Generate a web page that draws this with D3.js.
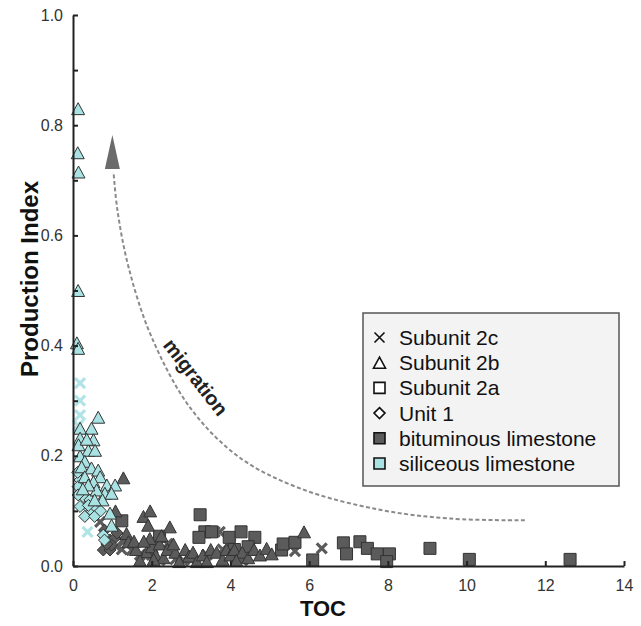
<!DOCTYPE html>
<html><head><meta charset="utf-8">
<script src="https://cdn.jsdelivr.net/npm/d3@7"></script>
<style>body{margin:0;background:#fff}svg{display:block}</style>
</head><body>
<svg id="c" width="641" height="626"></svg>
<script>
// ---------- data (TOC, Production Index) ----------
const xTicks = [0,2,4,6,8,10,12,14];
const yTicks = [0,0.1,0.2,0.3,0.4,0.5,0.6,0.7,0.8,0.9,1.0];
const yLabels = [0,0.2,0.4,0.6,0.8,1.0];
const units = ["Subunit 2c","Subunit 2b","Subunit 2a","Unit 1"];
const lithologies = ["bituminous limestone","siliceous limestone"];

// bituminous limestone
const bit2c = [[0.69,0.08],[1.28,0.044],[1.49,0.029],[1.24,0.03],[1.7,0.02],[2.0,0.02],[2.2,0.01],[2.6,0.012],[2.8,0.01],[3.0,0.01],[3.4,0.02],[3.6,0.062],[3.73,0.062],[3.8,0.03],[4.0,0.04],[4.3,0.01],[4.5,0.035],[5.64,0.027],[6.32,0.032],[2.4,0.04],[1.1,0.035]];
const bit2b = [[1.28,0.16],[1.08,0.10],[1.79,0.09],[1.96,0.10],[1.91,0.074],[1.36,0.059],[1.41,0.044],[2.46,0.071],[1.87,0.026],[1.7,0.01],[1.6,0.03],[2.0,0.035],[2.1,0.02],[2.2,0.04],[2.3,0.015],[2.4,0.03],[2.6,0.025],[2.7,0.008],[2.85,0.03],[2.95,0.018],[3.05,0.025],[3.15,0.008],[3.3,0.02],[3.5,0.03],[3.65,0.025],[3.8,0.012],[3.9,0.03],[4.0,0.02],[4.1,0.03],[4.3,0.025],[4.45,0.015],[4.6,0.03],[4.75,0.02],[4.92,0.032],[5.05,0.022],[5.87,0.062],[1.95,0.05],[2.25,0.055],[1.55,0.045],[2.05,0.012],[3.4,0.008],[4.15,0.01],[1.8,0.045],[2.55,0.04]];
const bit2a = [[1.24,0.082],[2.2,0.054],[3.23,0.093],[3.35,0.062],[3.2,0.052],[3.52,0.062],[3.97,0.052],[4.27,0.062],[4.62,0.052],[5.3,0.029],[5.34,0.04],[5.64,0.043],[6.09,0.011],[6.87,0.042],[6.95,0.022],[7.29,0.044],[7.48,0.032],[7.73,0.022],[8.04,0.022],[7.97,0.008],[9.07,0.032],[10.07,0.012],[12.63,0.012],[4.1,0.03],[4.45,0.035]];
const bitU1 = [[0.77,0.029],[0.94,0.029],[0.94,0.047],[1.05,0.05],[0.98,0.038],[0.8,0.065],[1.12,0.06],[0.86,0.04]];

// siliceous limestone
const sil2c = [[0.18,0.332],[0.18,0.30],[0.18,0.274],[0.13,0.255],[0.37,0.062]];
const sil2b = [[0.13,0.83],[0.12,0.75],[0.14,0.715],[0.13,0.50],[0.10,0.405],[0.13,0.395],[0.64,0.27],[0.18,0.25],[0.47,0.25],[0.18,0.232],[0.52,0.229],[0.39,0.21],[0.18,0.20],[0.3,0.19],[0.56,0.21],[0.22,0.18],[0.47,0.178],[0.64,0.174],[0.3,0.162],[0.69,0.162],[0.52,0.153],[0.86,0.147],[1.07,0.147],[0.81,0.132],[0.98,0.132],[0.6,0.138],[0.39,0.147],[0.94,0.096],[0.98,0.074],[0.14,0.22],[0.35,0.23],[0.75,0.12],[0.55,0.12],[0.25,0.14]];
const silU1 = [[0.18,0.156],[0.26,0.126],[0.35,0.108],[0.47,0.10],[0.18,0.108],[0.22,0.138],[0.77,0.056],[0.43,0.12],[0.6,0.105],[0.13,0.144],[0.13,0.129],[0.39,0.11],[0.8,0.047],[0.3,0.09],[0.55,0.09],[0.12,0.17],[0.7,0.1]];

// migration arrow path (data coords)
const arrowPath = [[11.48,0.083],[9.6,0.086],[7.8,0.102],[5.8,0.14],[4.25,0.196],[3.0,0.285],[2.0,0.415],[1.42,0.54],[1.13,0.645],[1.03,0.715]];
const arrowTip = [1.0,0.782];

// ---------- layout ----------
const svg = d3.select("#c");
const x = d3.scaleLinear().domain([0,14]).range([73,624]);
const y = d3.scaleLinear().domain([0,1]).range([566,15]);

const darkFill = "#5b5b5b", cyanFill = "#a9e2e2", outline = "#333";
const crossDark = "#5b5b5b", crossCyan = "#b0e4e6";

function tri(s){const h=s*0.92;return `M0,${-h/2}L${s/2},${h/2}L${-s/2},${h/2}Z`;}
function sq(s){return `M${-s/2},${-s/2}h${s}v${s}h${-s}Z`;}
function dia(s){const r=s/2;return `M0,${-r}L${r},0L0,${r}L${-r},0Z`;}
function cross(s){const r=s/2;return `M${-r},${-r}L${r},${r}M${r},${-r}L${-r},${r}`;}

const gPts = svg.append("g");
function drawShape(data, shape, size, fill){
  gPts.selectAll(null).data(data).enter().append("path")
    .attr("d", shape(size))
    .attr("transform", d=>`translate(${x(d[0])},${y(d[1])})`)
    .attr("fill", fill).attr("stroke", outline).attr("stroke-width", 1);
}
function drawCross(data, color){
  gPts.selectAll(null).data(data).enter().append("path")
    .attr("d", cross(10))
    .attr("transform", d=>`translate(${x(d[0])},${y(d[1])})`)
    .attr("fill","none").attr("stroke", color).attr("stroke-width", 3.2);
}
// bituminous first
drawCross(bit2c, crossDark);
drawShape(bit2a, sq, 12, darkFill);
drawShape(bitU1, dia, 12, darkFill);
drawShape(bit2b, tri, 13, darkFill);
// siliceous
drawCross(sil2c, crossCyan);
drawShape(silU1, dia, 12, cyanFill);
drawShape(sil2b, tri, 13, cyanFill);

// ---------- arrow ----------
const line = d3.line().x(d=>x(d[0])).y(d=>y(d[1])).curve(d3.curveCatmullRom);
svg.append("path").attr("d", line(arrowPath)).attr("fill","none")
  .attr("stroke","#8a8a8a").attr("stroke-width",2).attr("stroke-dasharray","4,2.5");
const tx = x(arrowTip[0]), ty = y(arrowTip[1]);
svg.append("path").attr("d", `M${tx},${ty}L${tx+7.5},${ty+34}L${tx-7.5},${ty+34}Z`).attr("fill","#6b6b6b");

svg.append("text").attr("transform", `translate(${x(2.98)},${y(0.335)}) rotate(52)`)
  .attr("text-anchor","middle").attr("font-family","Liberation Sans, Arial, sans-serif")
  .attr("font-weight","bold").attr("font-size",20).attr("fill","#222").text("migration");

// ---------- axes ----------
const axC = "#222";
const gx = svg.append("g").attr("transform","translate(0,566)")
  .call(d3.axisBottom(x).tickValues(xTicks).tickSizeInner(-5).tickSizeOuter(0).tickPadding(14).tickFormat(d3.format("d")));
const gy = svg.append("g").attr("transform","translate(73,0)")
  .call(d3.axisLeft(y).tickValues(yTicks).tickSizeInner(-5).tickSizeOuter(0).tickPadding(10)
    .tickFormat(d => yLabels.some(v=>Math.abs(v-d)<1e-9) ? d3.format(".1f")(d) : ""));
[gx,gy].forEach(g=>{
  g.select(".domain").attr("stroke",axC).attr("stroke-width",2);
  g.selectAll(".tick line").attr("stroke",axC).attr("stroke-width",2);
  g.selectAll(".tick text").attr("font-family","Liberation Sans, Arial, sans-serif").attr("font-size",16).attr("fill","#333");
});

svg.append("text").attr("x",323).attr("y",616).attr("text-anchor","middle")
  .attr("font-family","Liberation Sans, Arial, sans-serif").attr("font-weight","bold").attr("font-size",22).attr("fill","#111").text("TOC");
svg.append("text").attr("transform","translate(38,279) rotate(-90)").attr("text-anchor","middle")
  .attr("font-family","Liberation Sans, Arial, sans-serif").attr("font-weight","bold").attr("font-size",24).attr("fill","#111").text("Production Index");

// ---------- legend ----------
const lg = svg.append("g");
lg.append("rect").attr("x",363).attr("y",313).attr("width",256).attr("height",173)
  .attr("fill","#f3f3f3").attr("stroke","#555").attr("stroke-width",1.5);
const legendItems = [
  {label:units[0], type:"cross"},
  {label:units[1], type:"tri"},
  {label:units[2], type:"sq"},
  {label:units[3], type:"dia"},
  {label:lithologies[0], type:"fill", color:darkFill},
  {label:lithologies[1], type:"fill", color:cyanFill}
];
legendItems.forEach((it,i)=>{
  const cy = 337.5 + i*25.2;
  const g = lg.append("g").attr("transform",`translate(379.5,${cy})`);
  if(it.type==="cross") g.append("path").attr("d",cross(10)).attr("stroke","#111").attr("stroke-width",1.6).attr("fill","none");
  if(it.type==="tri") g.append("path").attr("d",tri(12)).attr("stroke","#111").attr("stroke-width",1.6).attr("fill","#fff");
  if(it.type==="sq") g.append("path").attr("d",sq(11)).attr("stroke","#111").attr("stroke-width",1.6).attr("fill","#fff");
  if(it.type==="dia") g.append("path").attr("d",dia(11)).attr("stroke","#111").attr("stroke-width",1.6).attr("fill","#fff");
  if(it.type==="fill") g.append("path").attr("d",sq(11)).attr("stroke","#111").attr("stroke-width",1.6).attr("fill",it.color);
  lg.append("text").attr("x",399).attr("y",cy+7.5).attr("font-family","Liberation Sans, Arial, sans-serif")
    .attr("font-size",21).attr("fill","#111").text(it.label);
});
</script>
</body></html>
